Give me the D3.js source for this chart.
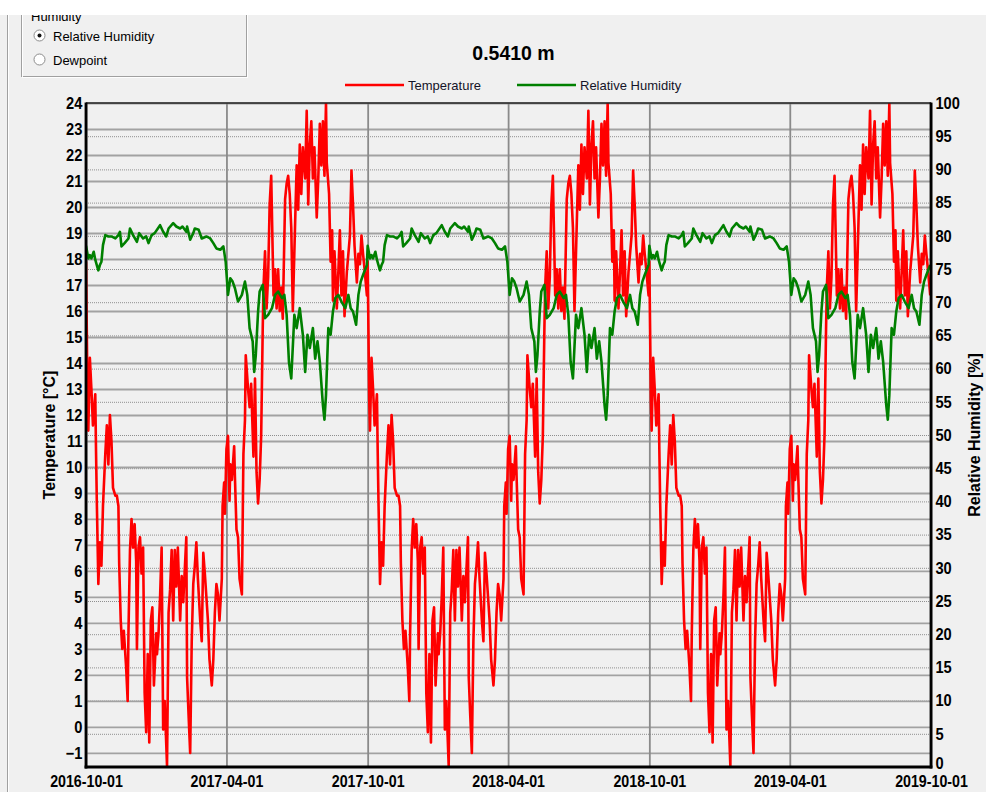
<!DOCTYPE html>
<html>
<head>
<meta charset="utf-8">
<script src="https://cdn.jsdelivr.net/npm/d3@7"></script>
<style>
  html, body { margin: 0; padding: 0; background: #f0f0f0; }
  svg { display: block; }
  text { font-family: "Liberation Sans", Arial, sans-serif; }
</style>
</head>
<body>
<svg id="chart" width="986" height="792"></svg>
<script>
// Logger at 0.5410 m. Every yearly cycle (from 1 October) carries the same record.
const cycleStarts = ["2016-10-01", "2017-10-01", "2018-10-01"];

// Temperature [°C]: day of cycle and reading
const temperatureDay = [0,1,2,3,5,7,9,12,13,14,16,18,20,22,25,27,29,31,33,35,38,40,42,43,45,47,49,52,54,55,57,59,61,63,65,66,68,70,72,74,76,78,80,82,84,86,88,91,92,94,96,98,100,102,105,107,109,111,113,115,117,119,122,124,126,130,131,133,135,137,139,141,143,145,148,150,152,154,156,158,160,163,165,167,169,171,173,176,177,179,180,182,184,186,187,189,192,193,195,197,199,202,204,206,207,210,212,214,217,219,221,223,225,227,229,230,232,234,236,238,240,243,245,247,249,251,253,255,258,260,262,264,266,268,271,273,275,277,279,281,284,286,288,290,292,294,296,299,301,303,305,307,309,311,312,315,317,319,320,322,325,327,329,331,333,335,338,340,342,344,346,348,351,353,355,357,359,361,364];
const temperature = [17.9,15.3,12.6,11.4,14.2,13.0,11.6,12.8,10.6,8.7,5.5,7.1,6.2,8.5,10.5,11.6,10.1,12.0,11.0,9.2,8.9,8.9,8.5,6.3,4.1,3.0,3.7,2.3,1.0,3.6,6.8,8.0,6.9,7.8,6.4,3.0,6.9,7.3,5.9,6.9,1.3,-0.2,2.8,-0.6,4.1,4.6,1.6,3.6,2.8,3.6,5.0,6.9,-0.1,1.0,-1.5,4.4,5.3,6.8,4.1,6.8,5.4,6.9,4.1,5.8,4.8,7.3,1.9,0.4,-1.0,3.3,5.5,6.2,7.1,5.7,4.1,3.3,6.7,5.9,5.0,4.1,2.6,1.6,2.6,4.4,5.5,5.1,4.1,5.7,8.5,9.4,8.2,10.7,11.2,8.7,10.1,9.5,10.8,9.6,7.6,7.3,5.7,5.1,10.5,11.8,14.3,13.0,12.3,13.2,10.4,13.4,9.8,8.6,9.5,11.2,15.3,16.9,18.3,16.1,17.3,20.1,21.2,16.6,17.6,16.1,17.6,16.0,16.9,15.7,20.3,20.9,21.2,20.5,19.2,16.0,19.4,21.6,19.9,22.4,20.5,22.3,21.1,23.7,20.1,22.4,23.3,21.1,22.3,19.6,21.1,23.2,21.6,23.3,21.2,24.0,21.7,20.5,17.9,19.1,16.4,18.3,16.1,17.5,19.1,16.6,18.3,15.8,17.5,18.2,18.9,21.4,20.1,18.5,17.1,18.2,17.8,18.9,18.2,17.6,16.6];

// Relative humidity [%]: day of cycle and reading
const humidityDay = [0,3,5,7,10,12,14,16,18,20,22,25,29,33,38,42,44,46,50,55,57,61,66,69,74,78,81,85,89,96,100,104,107,113,117,122,125,130,131,135,139,141,146,150,156,161,165,169,174,178,181,184,187,190,193,197,202,206,209,212,216,218,220,223,225,229,232,236,241,245,249,254,257,260,263,266,270,273,277,281,284,287,290,294,297,300,303,307,309,311,314,317,320,323,327,331,336,340,343,346,350,353,356,359,364];
const humidity = [78.5,76.6,77.1,76.6,77.6,76.4,75.6,74.8,75.6,76.1,78.6,80.1,79.9,79.9,79.6,80.1,80.6,78.4,78.9,79.6,81.1,80.1,79.1,80.4,79.6,79.9,78.9,80.1,80.4,81.6,80.6,79.9,81.1,81.9,81.4,81.1,81.4,80.6,81.4,79.4,80.4,81.1,80.9,79.6,79.9,79.6,78.9,78.1,77.9,78.4,76.1,71.1,73.6,73.1,72.1,70.1,71.1,73.1,71.1,66.1,64.1,59.5,62.0,68.6,71.6,72.6,67.6,68.1,69.1,71.1,71.6,70.6,71.1,68.1,61.0,58.5,68.1,66.1,69.1,65.1,59.5,65.1,63.1,66.1,61.5,64.1,61.0,54.5,52.3,56.0,66.1,65.1,68.6,70.6,71.1,70.1,69.1,71.1,69.1,68.6,66.6,71.1,73.1,74.1,75.6];

// Axis ticks
const dateTicks = ["2016-10-01", "2017-04-01", "2017-10-01", "2018-04-01", "2018-10-01", "2019-04-01", "2019-10-01"];
const temperatureTicks = [-1,0,1,2,3,4,5,6,7,8,9,10,11,12,13,14,15,16,17,18,19,20,21,22,23,24];
const humidityTicks = [0,5,10,15,20,25,30,35,40,45,50,55,60,65,70,75,80,85,90,95,100];

const parseDate = d3.utcParse("%Y-%m-%d");
const formatDate = d3.utcFormat("%Y-%m-%d");

function expandCycles(days, values) {
  return cycleStarts.flatMap(start =>
    days.map((d, i) => ({ date: d3.utcDay.offset(parseDate(start), d), value: values[i] })));
}
const temperatureSeries = expandCycles(temperatureDay, temperature);
const humiditySeries = expandCycles(humidityDay, humidity);

const svg = d3.select("#chart");
const plot = { left: 86, right: 931, top: 103, bottom: 767 };

const x = d3.scaleUtc()
  .domain([parseDate(dateTicks[0]), parseDate(dateTicks[dateTicks.length - 1])])
  .range([plot.left, plot.right]);
const yTemp = d3.scaleLinear().domain([-1.54, 24]).range([plot.bottom, plot.top]);
const yHum = d3.scaleLinear().domain([0, 100]).range([plot.bottom, plot.top]);

// window frame pieces
svg.append("line").attr("x1", 7.5).attr("x2", 7.5).attr("y1", 0).attr("y2", 792)
  .attr("stroke", "#a0a0a0");
svg.append("line").attr("x1", 8.5).attr("x2", 8.5).attr("y1", 0).attr("y2", 792)
  .attr("stroke", "#ffffff");

// option group box
svg.append("rect").attr("x", 21.5).attr("y", 8.5).attr("width", 225).attr("height", 68)
  .attr("fill", "none").attr("stroke", "#a0a0a0");
svg.append("rect").attr("x", 22.5).attr("y", 9.5).attr("width", 225).attr("height", 68)
  .attr("fill", "none").attr("stroke", "#ffffff").attr("stroke-opacity", 0.9);
svg.append("rect").attr("x", 28).attr("y", 6).attr("width", 56).attr("height", 14).attr("fill", "#f0f0f0");
svg.append("text").attr("x", 31).attr("y", 21).attr("font-size", 13).attr("fill", "#000").text("Humidity");

const options = [{ label: "Relative Humidity", cy: 35.5, on: true }, { label: "Dewpoint", cy: 59.5, on: false }];
options.forEach(o => {
  svg.append("circle").attr("cx", 39.5).attr("cy", o.cy).attr("r", 5.5)
    .attr("fill", "#ffffff").attr("stroke", "#8c8c8c");
  if (o.on) svg.append("circle").attr("cx", 39.5).attr("cy", o.cy).attr("r", 2).attr("fill", "#111");
  svg.append("text").attr("x", 53).attr("y", o.cy + 5).attr("font-size", 13).attr("fill", "#000").text(o.label);
});

// strip along the top edge
svg.append("rect").attr("x", 0).attr("y", 0).attr("width", 986).attr("height", 15).attr("fill", "#ffffff");

// title
svg.append("text").attr("x", 513.5).attr("y", 60).attr("text-anchor", "middle")
  .attr("font-size", 19.5).attr("font-weight", "bold").attr("fill", "#000").text("0.5410 m");

// legend
const legend = [
  { label: "Temperature", color: "#ff0000", x0: 345 },
  { label: "Relative Humidity", color: "#008000", x0: 517 }
];
legend.forEach(l => {
  svg.append("line").attr("x1", l.x0).attr("x2", l.x0 + 59).attr("y1", 85).attr("y2", 85)
    .attr("stroke", l.color).attr("stroke-width", 2.6);
  svg.append("text").attr("x", l.x0 + 63).attr("y", 90).attr("font-size", 13)
    .attr("fill", "#141428").text(l.label);
});

const width = plot.right - plot.left;
const height = plot.bottom - plot.top;

// humidity grid (dotted) + right axis labels
const rightAxis = svg.append("g")
  .attr("transform", `translate(${plot.right},0)`)
  .call(d3.axisRight(yHum).tickValues(humidityTicks).tickSize(-width).tickPadding(5));
rightAxis.select(".domain").remove();
rightAxis.selectAll(".tick line").attr("stroke", "#8f8f8f").attr("stroke-width", 1)
  .attr("stroke-dasharray", "1,1");

// temperature grid (solid) + left axis labels
const leftAxis = svg.append("g")
  .attr("transform", `translate(${plot.left},0)`)
  .call(d3.axisLeft(yTemp).tickValues(temperatureTicks).tickSize(-width).tickPadding(4));
leftAxis.select(".domain").remove();
leftAxis.selectAll(".tick line").attr("stroke", "#a2a2a2").attr("stroke-width", 1.8);

// date grid + bottom labels
const bottomAxis = svg.append("g")
  .attr("transform", `translate(0,${plot.bottom})`)
  .call(d3.axisBottom(x).tickValues(dateTicks.map(parseDate)).tickFormat(formatDate)
    .tickSize(-height).tickPadding(9));
bottomAxis.select(".domain").remove();
bottomAxis.selectAll(".tick line").attr("stroke", "#8a8a8a").attr("stroke-width", 1.8);

[leftAxis, rightAxis, bottomAxis].forEach(g => {
  g.attr("font-family", null).attr("font-size", null);
  g.selectAll(".tick text")
    .attr("font-size", 16.5).attr("font-weight", "bold").attr("fill", "#000")
    .attr("transform", "scale(0.89,1)");
});
bottomAxis.selectAll(".tick text").attr("font-size", 16);
// lowest humidity label sits a little higher, clear of the last date
rightAxis.selectAll(".tick text").filter(d => d === 0).attr("dy", "0.08em");

// axis titles
svg.append("text").attr("transform", `translate(55,${(plot.top + plot.bottom) / 2}) rotate(-90)`)
  .attr("text-anchor", "middle").attr("font-size", 16).attr("font-weight", "bold").attr("fill", "#000")
  .text("Temperature [°C]");
svg.append("text").attr("transform", `translate(980,${(plot.top + plot.bottom) / 2}) rotate(-90)`)
  .attr("text-anchor", "middle").attr("font-size", 16).attr("font-weight", "bold").attr("fill", "#000")
  .text("Relative Humidity [%]");

// traces
svg.append("clipPath").attr("id", "plot-clip").append("rect")
  .attr("x", plot.left).attr("y", plot.top).attr("width", width).attr("height", height);
const traces = svg.append("g").attr("clip-path", "url(#plot-clip)");

traces.append("path").datum(temperatureSeries)
  .attr("fill", "none").attr("stroke", "#ff0000").attr("stroke-width", 2.6)
  .attr("stroke-linejoin", "round")
  .attr("d", d3.line().x(d => x(d.date)).y(d => yTemp(d.value)));
traces.append("path").datum(humiditySeries)
  .attr("fill", "none").attr("stroke", "#008000").attr("stroke-width", 2.6)
  .attr("stroke-linejoin", "round")
  .attr("d", d3.line().x(d => x(d.date)).y(d => yHum(d.value)));

// plot frame
const frame = svg.append("g").attr("stroke", "#000");
frame.append("line").attr("x1", plot.left).attr("x2", plot.right).attr("y1", plot.top).attr("y2", plot.top)
  .attr("stroke-width", 1.5).attr("stroke", "#222");
frame.append("line").attr("x1", plot.left).attr("x2", plot.left).attr("y1", plot.top - 0.5).attr("y2", plot.bottom + 1.5)
  .attr("stroke-width", 2.8);
frame.append("line").attr("x1", plot.right).attr("x2", plot.right).attr("y1", plot.top - 0.5).attr("y2", plot.bottom + 1.5)
  .attr("stroke-width", 2.8);
frame.append("line").attr("x1", plot.left - 1.4).attr("x2", plot.right + 1.4).attr("y1", plot.bottom).attr("y2", plot.bottom)
  .attr("stroke-width", 2.8);
</script>
</body>
</html>
